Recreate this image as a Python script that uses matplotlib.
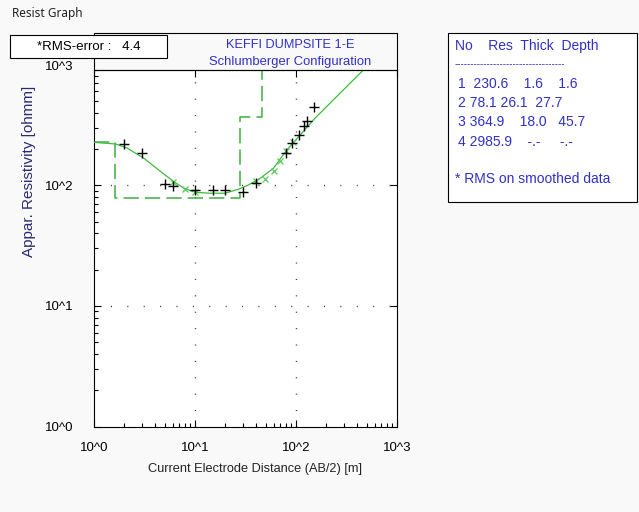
import numpy as np
import matplotlib
matplotlib.use("Agg")
import matplotlib.pyplot as plt
from matplotlib.patches import Rectangle

# observed apparent resistivity (AB/2 in m, rho in ohmm)
ab2_obs = [2, 3, 5, 6, 10, 15, 20, 30, 40, 80, 92, 108, 120, 128, 150]
rho_obs = [220, 184, 102, 99, 91, 91, 91, 88, 104, 185, 224, 261, 310, 338, 443]

# smoothed data
ab2_smooth = [6, 8, 10, 40, 49, 60, 70, 80, 94]
rho_smooth = [107, 93, 88, 109, 112, 131, 159, 192, 230]

# model response curve
ab2_fit = [1.0, 1.64, 2.14, 3.1, 4.57, 6.2, 7.8, 10, 14.1, 19.8, 26.8, 33.7,
           44, 59.6, 81, 110, 148, 217, 464]
rho_fit = [227, 220, 203, 168, 130, 107, 94.4, 87.5, 85.9, 85.9, 92.6, 100.5,
           114, 138, 196, 261, 347, 479, 903]

# layered model
layer_no = [1, 2, 3, 4]
layer_res = [230.6, 78.1, 364.9, 2985.9]
layer_thick = [1.6, 26.1, 18.0]
layer_depth = [1.6, 27.7, 45.7]

rms_error = 4.4
W, H = 639, 512


def fx(px):
    return px / W


def fy(py):
    return 1 - py / H


fig = plt.figure(figsize=(W / 100, H / 100), dpi=100)
fig.patch.set_facecolor("#f9f9f9")

ax = fig.add_axes([fx(94), fy(426.5), fx(397) - fx(94), fy(69.5) - fy(426.5)])
ax.set_facecolor("white")
ax.set_xscale("log")
ax.set_yscale("log")
ax.set_xlim(1, 1000)
ax.set_ylim(1, 10 ** 2.96)

# sparse dotted grid on the inner decades
for g in [10, 100]:
    ax.axhline(g, color="#444444", lw=1.0, ls=(0, (0.8, 11)), zorder=1)
    ax.axvline(g, color="#444444", lw=1.0, ls=(0, (0.8, 11)), zorder=1)

# layer model as dashed step line
bounds = [1] + layer_depth + [1000]
step_x, step_y = [], []
for i, r in enumerate(layer_res):
    step_x += [bounds[i], bounds[i + 1]]
    step_y += [r, r]
ax.plot(step_x, step_y, color="#3fae3f", lw=1.1, ls=(0, (10, 4)), zorder=2)

ax.plot(ab2_fit, rho_fit, color="#3cbb3c", lw=0.9, zorder=3)
ax.plot(ab2_smooth, rho_smooth, ls="none", marker="x", ms=5, mew=0.9,
        color="#5cc85c", zorder=4)
ax.plot(ab2_obs, rho_obs, ls="none", marker="+", ms=7, mew=1.0,
        color="black", zorder=5)

for s in ax.spines.values():
    s.set_linewidth(0.8)
    s.set_color("black")

ax.set_xticks([1, 10, 100, 1000])
ax.set_xticklabels(["10^0", "10^1", "10^2", "10^3"])
ax.set_yticks([1, 10, 100])
ax.set_yticklabels(["10^0", "10^1", "10^2"])
ax.tick_params(which="both", direction="in", top=True, right=True,
               labelsize=9.5, colors="black")
ax.tick_params(which="major", length=5, width=0.8)
ax.tick_params(which="minor", length=3, width=0.8, top=False, right=False)
ax.tick_params(axis="x", pad=11)
ax.tick_params(axis="y", pad=15)
for lab in ax.get_xticklabels() + ax.get_yticklabels():
    lab.set_family("Liberation Sans")
fig.text(fx(73), fy(67), "10^3", ha="right", va="center", fontsize=9.5,
         family="Liberation Sans")

fig.text(fx(29), fy(171), "Appar. Resistivity [ohmm]", rotation=90,
         ha="center", va="center", fontsize=11, color="#2a2a70",
         family="Liberation Sans")
fig.text(fx(255), fy(469), "Current Electrode Distance (AB/2) [m]",
         ha="center", va="center", fontsize=9.2, color="#222222",
         family="Liberation Sans")

# title box above the axes
fig.patches.append(Rectangle((fx(94), fy(69.5)), fx(397) - fx(94),
                             fy(33) - fy(69.5), transform=fig.transFigure,
                             fill=False, ec="black", lw=0.8))
blue = "#3030c8"
fig.text(fx(290), fy(45.5), "KEFFI DUMPSITE 1-E", ha="center", va="center",
         fontsize=9.2, color=blue, family="Liberation Sans")
fig.text(fx(290), fy(62), "Schlumberger Configuration", ha="center",
         va="center", fontsize=9.4, color=blue, family="Liberation Sans")

# RMS box
fig.patches.append(Rectangle((fx(10), fy(58)), fx(167) - fx(10),
                             fy(35) - fy(58), transform=fig.transFigure,
                             fc="white", ec="black", lw=0.8, zorder=10))
fig.text(fx(89), fy(47.5), f"*RMS-error :   {rms_error:.1f}", ha="center",
         va="center", fontsize=9.5, color="black", family="Liberation Sans",
         zorder=11)

fig.text(fx(12), fy(14), "Resist Graph", ha="left", va="center",
         fontsize=8.5, color="#222222", family="Noto Sans")

# layer table panel
fig.patches.append(Rectangle((fx(448), fy(202)), fx(637) - fx(448),
                             fy(33) - fy(202), transform=fig.transFigure,
                             fc="white", ec="black", lw=0.8))
tx = fx(455)
fig.text(tx, fy(46), "No    Res  Thick  Depth", ha="left", va="center",
         fontsize=10, color=blue, family="Liberation Sans")
fig.text(tx, fy(64), "-" * 34, ha="left", va="center", fontsize=7,
         color=blue, family="Liberation Sans")

# spaces between the columns of each row
gaps = [(2, 4, 4), (1, 1, 2), (1, 4, 3), (1, 4, 5)]
for i, n in enumerate(layer_no):
    if i < len(layer_thick):
        th = f"{layer_thick[i]:.1f}"
        dp = f"{layer_depth[i]:.1f}"
    else:
        th, dp = "-.-", "-.-"
    g1, g2, g3 = gaps[i]
    line = (f"{n}" + " " * g1 + f"{layer_res[i]:.1f}" + " " * g2 + th
            + " " * g3 + dp)
    fig.text(fx(458), fy(84 + i * 19.2), line, ha="left", va="center",
             fontsize=10, color=blue, family="Liberation Sans")
fig.text(tx, fy(179), "* RMS on smoothed data", ha="left", va="center",
         fontsize=10, color=blue, family="Liberation Sans")

fig.savefig("out.png", dpi=100, facecolor=fig.get_facecolor())
